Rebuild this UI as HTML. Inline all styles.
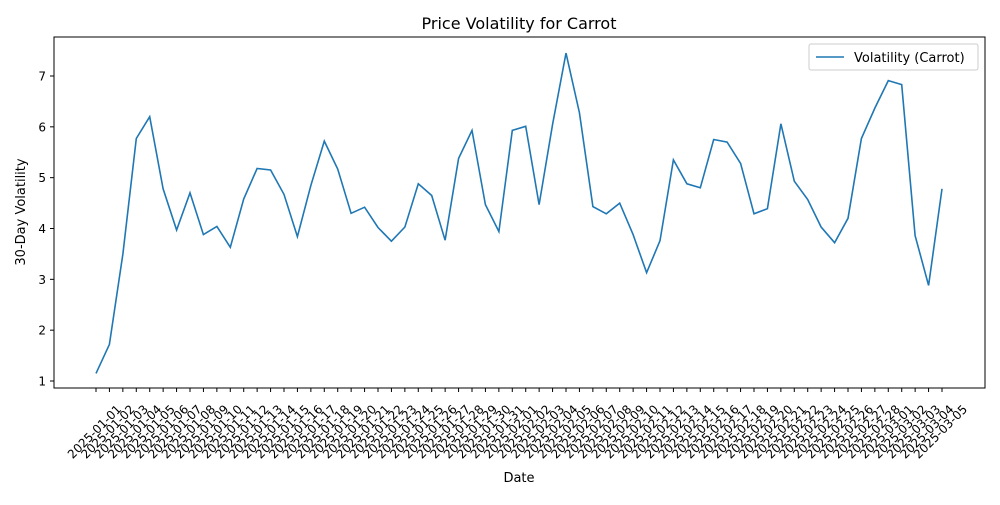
<!DOCTYPE html>
<html><head><meta charset="utf-8"><style>
body{margin:0;background:#fff;font-family:"Liberation Sans","DejaVu Sans",sans-serif}
</style></head><body>
<svg id="chart" width="1000" height="500" xmlns="http://www.w3.org/2000/svg" font-family="'DejaVu Sans','Liberation Sans',sans-serif">
<rect width="1000" height="500" fill="#fff"/>
<text x="519" y="29" text-anchor="middle" font-size="16">Price Volatility for Carrot</text>
<g id="yticks"></g><g id="xticks"></g>
<path id="line" fill="none" stroke="#1f77b4" stroke-width="1.6"/>
<rect x="54" y="37" width="931" height="351" fill="none" stroke="#000" stroke-width="1"/>
<text x="519" y="482" text-anchor="middle" font-size="13">Date</text>
<text transform="translate(25,212) rotate(-90)" text-anchor="middle" font-size="13">30-Day Volatility</text>
<g>
<rect x="809" y="44" width="169" height="26" fill="#fff" stroke="#ccc" rx="2"/>
<line x1="816" y1="57" x2="844" y2="57" stroke="#1f77b4" stroke-width="1.6"/>
<text x="854" y="62" font-size="13">Volatility (Carrot)</text>
</g>
</svg>
<script>
const values=[1.15,1.72,3.5,5.77,6.2,4.78,3.97,4.7,3.88,4.04,3.63,4.58,5.18,5.15,4.67,3.84,4.85,5.72,5.17,4.3,4.42,4.02,3.75,4.03,4.88,4.65,3.77,5.38,5.93,4.47,3.94,5.93,6.01,4.47,6.05,7.45,6.28,4.43,4.29,4.5,3.88,3.13,3.76,5.35,4.88,4.8,5.75,5.7,5.28,4.29,4.39,6.06,4.93,4.57,4.03,3.72,4.2,5.77,6.37,6.91,6.83,3.86,2.88,4.78];
const yTicks=[1,2,3,4,5,6,7];
const startDate="2025-01-01";
const dates=[];
(function(){const d0=new Date(startDate+"T00:00:00Z");for(let i=0;i<values.length;i++){const d=new Date(d0.getTime()+i*86400000);dates.push(d.toISOString().slice(0,10));}})();
const ns="http://www.w3.org/2000/svg";
const X0=96,X1=942,Y1v=381,Y7v=76;
function xs(i){return X0+(X1-X0)*i/(values.length-1);}
function ys(v){return Y1v+(v-1)*(Y7v-Y1v)/6;}
const yg=document.getElementById('yticks');
yTicks.forEach(t=>{const y=ys(t);
const l=document.createElementNS(ns,'line');l.setAttribute('x1',50);l.setAttribute('x2',54);l.setAttribute('y1',y);l.setAttribute('y2',y);l.setAttribute('stroke','#000');


yg.appendChild(l);
const tx=document.createElementNS(ns,'text');tx.setAttribute('x',46);tx.setAttribute('y',y+4.5);tx.setAttribute('text-anchor','end');tx.setAttribute('font-size','12');tx.textContent=t;


yg.appendChild(tx);});
const xg=document.getElementById('xticks');
dates.forEach((d,i)=>{const x=xs(i);
const l=document.createElementNS(ns,'line');l.setAttribute('x1',x);l.setAttribute('x2',x);l.setAttribute('y1',388);l.setAttribute('y2',392);l.setAttribute('stroke','#000');


xg.appendChild(l);
const tx=document.createElementNS(ns,'text');tx.setAttribute('transform','translate('+(x+26)+',410) rotate(-45)');tx.setAttribute('text-anchor','end');tx.setAttribute('font-size','12');tx.textContent=d;


xg.appendChild(tx);});
document.getElementById('line').setAttribute('d',values.map((v,i)=>(i?'L':'M')+xs(i).toFixed(1)+','+ys(v).toFixed(1)).join(''));
</script>
</body></html>
